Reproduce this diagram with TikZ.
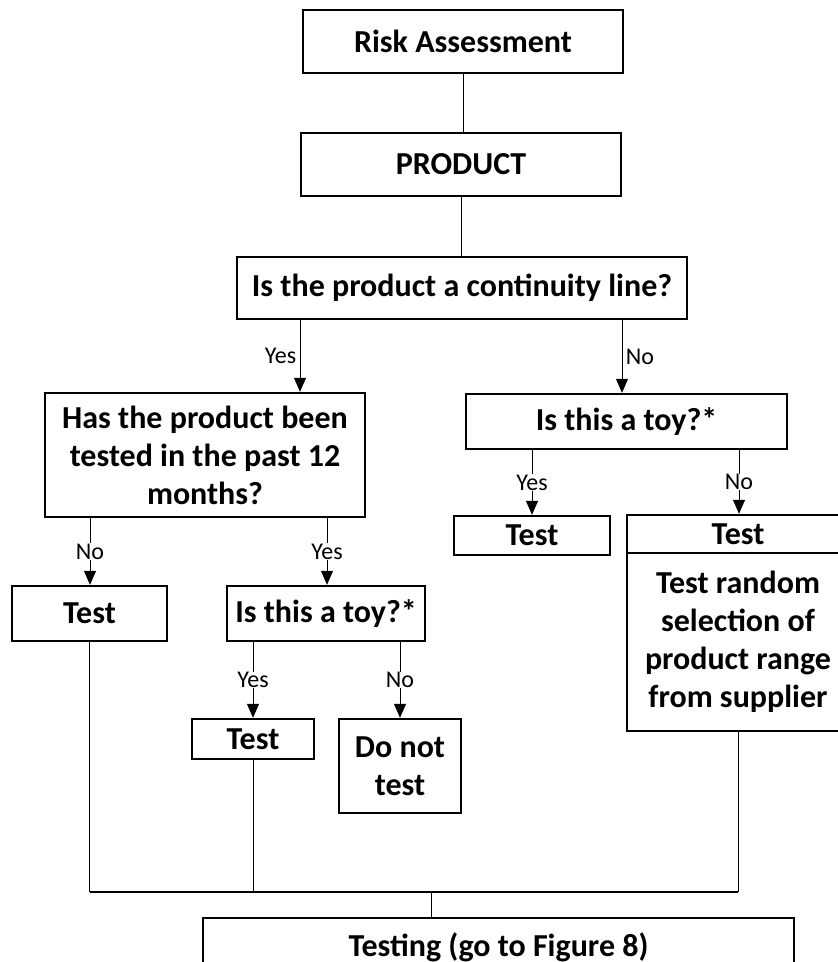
\documentclass[tikz,border=0pt]{standalone}
\usepackage{fontspec}
\setmainfont{Carlito}
\usetikzlibrary{arrows.meta, positioning, calc}

\begin{document}
\begin{tikzpicture}[x=1pt, y=-1pt,
  box/.style={draw, line width=2.4pt, align=center, inner sep=2pt,
    font=\bfseries\fontsize{32}{38}\selectfont},
  lbl/.style={font=\fontsize{24}{27}\selectfont},
  onl/.style={lbl, fill=white, inner sep=0.5pt},
  arr/.style={line width=1pt, -{Triangle[length=14pt,width=12pt]}},
  ln/.style={line width=1pt}]
\useasboundingbox (0,0) rectangle (838,962);
\clip (0,0) rectangle (838,962);

% top of the chart
\node[box, minimum width=320pt, minimum height=63pt] (RA) at (463,41.5) {Risk Assessment};
\node[box, minimum width=320pt, minimum height=63pt] (P) at (461,164.5) {PRODUCT};
\node[box, minimum width=450pt, minimum height=62pt] (C) at (462,288) {Is the product a continuity line?};

% continuity line: yes / no
\node[box, minimum width=320pt, minimum height=124pt] (H) at (205,455) {Has the product been\\tested in the past 12\\months?};
\node[box, minimum width=321pt, minimum height=55pt] (T1) at (626.5,421.5) {Is this a toy?*};
\node[box, minimum width=156pt, minimum height=39pt] (RT) at (532,535.5) {Test};
\node[box, minimum width=222pt, minimum height=38pt] (RH) at (738,534) {Test};
\node[box, minimum width=222pt, minimum height=178pt] (RB) at (738,642) {Test random\\selection of\\product range\\from supplier};

% tested in the past 12 months
\node[box, minimum width=155pt, minimum height=55pt] (LT) at (89.5,613.5) {Test};
\node[box, minimum width=198pt, minimum height=55pt] (T2) at (326,613.5) {Is this a toy?*};
\node[box, minimum width=122pt, minimum height=40pt] (ST) at (253,739) {Test};
\node[box, minimum width=122pt, minimum height=94pt] (DN) at (400,766) {Do not\\test};

\node[box, minimum width=591pt, minimum height=58pt] (TG) at (498.5,947) {Testing (go to Figure 8)};

\draw[ln] (RA.south) -- (RA.south |- P.north);
\draw[ln] (P.south) -- (P.south |- C.north);

\draw[arr] (C.south -| 300,0) -- node[lbl, left] {Yes} (H.north -| 300,0);
\draw[arr] (C.south -| 622,0) -- node[lbl, right] {No} (T1.north -| 622,0);
\draw[arr] (T1.south -| 532,0) -- node[onl] {Yes} (RT.north);
\draw[arr] (T1.south -| 739,0) -- node[onl] {No} (RH.north -| 739,0);
\draw[arr] (H.south -| 90,0) -- node[onl] {No} (LT.north -| 90,0);
\draw[arr] (H.south -| 327,0) -- node[onl] {Yes} (T2.north -| 327,0);
\draw[arr] (T2.south -| 253,0) -- node[onl] {Yes} (ST.north);
\draw[arr] (T2.south -| 400,0) -- node[onl] {No} (DN.north);

% joining to testing
\coordinate (J) at (431,892);
\draw[ln] (LT.south) -- (LT.south |- J);
\draw[ln] (ST.south) -- (ST.south |- J);
\draw[ln] (RB.south) -- (RB.south |- J);
\draw[line width=2pt] (LT.south |- J) -- (RB.south |- J);
\draw[ln] (J) -- (J |- TG.north);
\end{tikzpicture}
\end{document}
